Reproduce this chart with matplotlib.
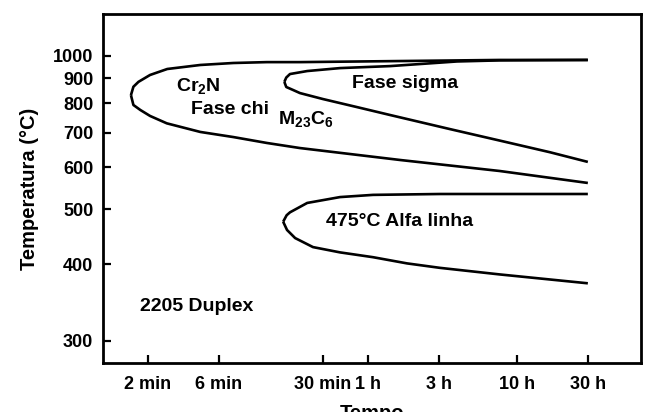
import numpy as np
import matplotlib
matplotlib.use("Agg")
import matplotlib.pyplot as plt
from matplotlib.ticker import NullLocator, FixedLocator

# --- Data (time in minutes, temperature in C) ---
# Cr2N / chi outer curve
CHI_UP_T = [1800, 460, 100, 21, 12.6, 7.5, 4.5, 2.7, 2.07, 1.73, 1.60, 1.54]
CHI_UP_C = [980, 980, 975, 970, 970, 966, 957, 939, 913, 884, 864, 831]
CHI_LO_T = [1.54, 1.60, 1.78, 2.07, 2.68, 4.5, 7.5, 12.6, 21, 100, 460, 1800]
CHI_LO_C = [831, 794, 776, 755, 730, 702, 686, 668, 653, 619, 590, 560]

# sigma curve
SIG_UP_T = [1800, 460, 238, 85, 39, 23.5, 18.0, 17.0, 16.5]
SIG_UP_C = [980, 978, 973, 952, 943, 930, 917, 902, 884]
SIG_LO_T = [16.5, 17.0, 18.9, 21, 30, 51, 85, 214, 463, 1000, 1800]
SIG_LO_C = [884, 863, 851, 839, 816, 786, 758, 711, 675, 641, 614]

# 475 C alpha prime curve
ALF_UP_T = [1800, 460, 183, 65, 39, 23.5, 18.0, 17.1, 16.2]
ALF_UP_C = [534, 534, 534, 532, 527, 514, 494, 488, 475]
ALF_LO_T = [16.2, 17.2, 19.5, 25.7, 39, 65, 110, 183, 460, 1800]
ALF_LO_C = [475, 459, 444, 428, 419, 411, 401, 394, 384, 371]

X_TICKS = [2, 6, 30, 60, 180, 600, 1800]
X_LABELS = ["2 min", "6 min", "30 min", "1 h", "3 h", "10 h", "30 h"]
Y_TICKS = [300, 400, 500, 600, 700, 800, 900, 1000]

plt.rcParams["font.family"] = ["Liberation Sans", "DejaVu Sans"]
plt.rcParams["font.weight"] = "bold"
plt.rcParams["mathtext.fontset"] = "custom"
plt.rcParams["mathtext.rm"] = "Liberation Sans:bold"
plt.rcParams["mathtext.bf"] = "Liberation Sans:bold"

fig = plt.figure(figsize=(6.45, 4.12), dpi=100)
ax = fig.add_axes([0.1597, 0.1189, 0.834, 0.847])

ax.set_xscale("log")
# temperature axis of the original is close to log(T - 100)
ax.set_yscale("function", functions=(lambda v: np.log10(np.maximum(v - 100, 1e-6)),
                                     lambda u: 10 ** u + 100))

lw = 1.9
for tt, cc in [(CHI_UP_T, CHI_UP_C), (CHI_LO_T, CHI_LO_C),
               (SIG_UP_T, SIG_UP_C), (SIG_LO_T, SIG_LO_C),
               (ALF_UP_T, ALF_UP_C), (ALF_LO_T, ALF_LO_C)]:
    ax.plot(tt, cc, color="black", lw=lw, solid_capstyle="butt", solid_joinstyle="round")

ax.set_xlim(1.0, 4090)
ax.set_ylim(278, 1221)

ax.xaxis.set_major_locator(FixedLocator(X_TICKS))
ax.set_xticklabels(X_LABELS)
ax.xaxis.set_minor_locator(NullLocator())
ax.yaxis.set_major_locator(FixedLocator(Y_TICKS))
ax.set_yticklabels([str(v) for v in Y_TICKS])
ax.yaxis.set_minor_locator(NullLocator())

ax.tick_params(axis="both", direction="in", length=6, width=1.6,
               labelsize=13, colors="black")
ax.tick_params(axis="x", pad=9)
ax.tick_params(axis="y", pad=7)
for s in ax.spines.values():
    s.set_linewidth(2)

ax.set_ylabel("Temperatura (°C)", fontsize=14.5, fontweight="bold", labelpad=10)
# the original cuts the axis title off at the bottom edge
ax.set_xlabel("Tempo", fontsize=14.5, fontweight="bold", labelpad=8)

tkw = dict(fontsize=14, fontweight="bold", color="black", va="center")
ax.text(4.35, 867, r"$\mathbf{Cr_2N}$", ha="center", **tkw)
ax.text(7.08, 776, "Fase chi", ha="center", **tkw)
ax.text(23.1, 745, r"$\mathbf{M_{23}C_6}$", ha="center", **tkw)
ax.text(106.6, 877, "Fase sigma", ha="center", **tkw)
ax.text(97.9, 476, "475°C Alfa linha", ha="center", **tkw)
ax.text(1.78, 340, "2205 Duplex", ha="left", **tkw)

fig.savefig("out.png", dpi=100)
